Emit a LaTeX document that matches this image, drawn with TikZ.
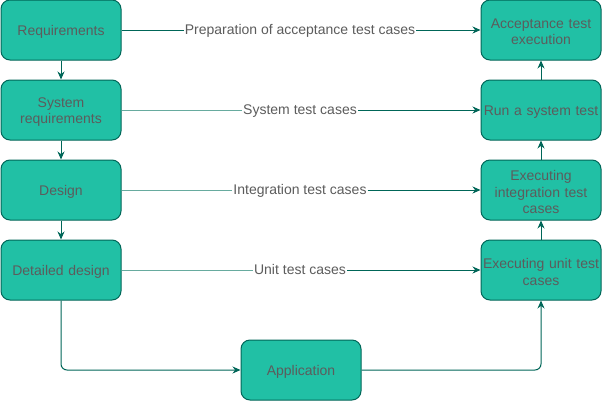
\documentclass[tikz,border=0pt]{standalone}
\usepackage{fontspec}
\setmainfont{Liberation Sans}
\usetikzlibrary{arrows.meta}
\definecolor{boxfill}{HTML}{21C0A5}
\definecolor{boxline}{HTML}{006658}
\definecolor{txt}{HTML}{5C5C5C}
\definecolor{lightline}{HTML}{67AB9F}
\tikzset{
  box/.style={draw=boxline, fill=boxfill, line width=1pt, rounded corners=9pt,
    minimum width=120pt, minimum height=60pt, inner sep=0pt},
  boxtext/.style={text width=118pt, align=center, inner sep=0pt, text=txt,
    yshift=-2pt, font=\fontsize{14}{16.5}\selectfont},
  conn/.style={draw=boxline, line width=1pt, -{Stealth[length=8pt,width=7pt]}},
  lab/.style={fill=white, text=txt, inner sep=1pt, text height=10pt, text depth=1pt,
    font=\fontsize{14}{16.5}\selectfont},
}
\begin{document}
\begin{tikzpicture}[x=1pt,y=-1pt]
\useasboundingbox (0,0) rectangle (602,402);
\node[box] (req) at (61,30) {};
\node[box] (sys) at (61,110) {};
\node[box] (des) at (61,190) {};
\node[box] (det) at (61,270) {};
\node[box] (acc) at (541,30) {};
\node[box] (run) at (541,110) {};
\node[box] (int) at (541,190) {};
\node[box] (unit) at (541,270) {};
\node[box] (app) at (301,370) {};
\node[boxtext] (req-t) at (req) {Requirements};
\node[boxtext] (sys-t) at (sys) {System\\requirements};
\node[boxtext] (des-t) at (des) {Design};
\node[boxtext] (det-t) at (det) {Detailed design};
\node[boxtext] (acc-t) at (acc) {Acceptance test\\execution};
\node[boxtext] (run-t) at (run) {Run a system test};
\node[boxtext] (int-t) at (int) {Executing\\integration test\\cases};
\node[boxtext] (unit-t) at (unit) {Executing unit test\\cases};
\node[boxtext] (app-t) at (app) {Application};
\node[lab] (l1) at (300,30) {Preparation of acceptance test cases};
\node[lab] (l2) at (300,110) {System test cases};
\node[lab] (l3) at (300,190) {Integration test cases};
\node[lab] (l4) at (300,270) {Unit test cases};
\coordinate (c1) at (61,370);
\coordinate (c2) at (541,370);
\draw[boxline, line width=1pt] (req.east) -- (l1.west);
\draw[conn] (l1.east) -- (acc.west);
\draw[lightline, line width=1pt] (sys.east) -- (l2.west);
\draw[conn] (l2.east) -- (run.west);
\draw[lightline, line width=1pt] (des.east) -- (l3.west);
\draw[conn] (l3.east) -- (int.west);
\draw[lightline, line width=1pt] (det.east) -- (l4.west);
\draw[conn] (l4.east) -- (unit.west);
\draw[conn] (req) -- (sys);
\draw[conn] (sys) -- (des);
\draw[conn] (des) -- (det);
\draw[conn] (unit) -- (int);
\draw[conn] (int) -- (run);
\draw[conn] (run) -- (acc);
\draw[conn, rounded corners=6pt] (det.south) -- (c1) -- (app.west);
\draw[conn, rounded corners=6pt] (app.east) -- (c2) -- (unit.south);
\end{tikzpicture}
\end{document}
